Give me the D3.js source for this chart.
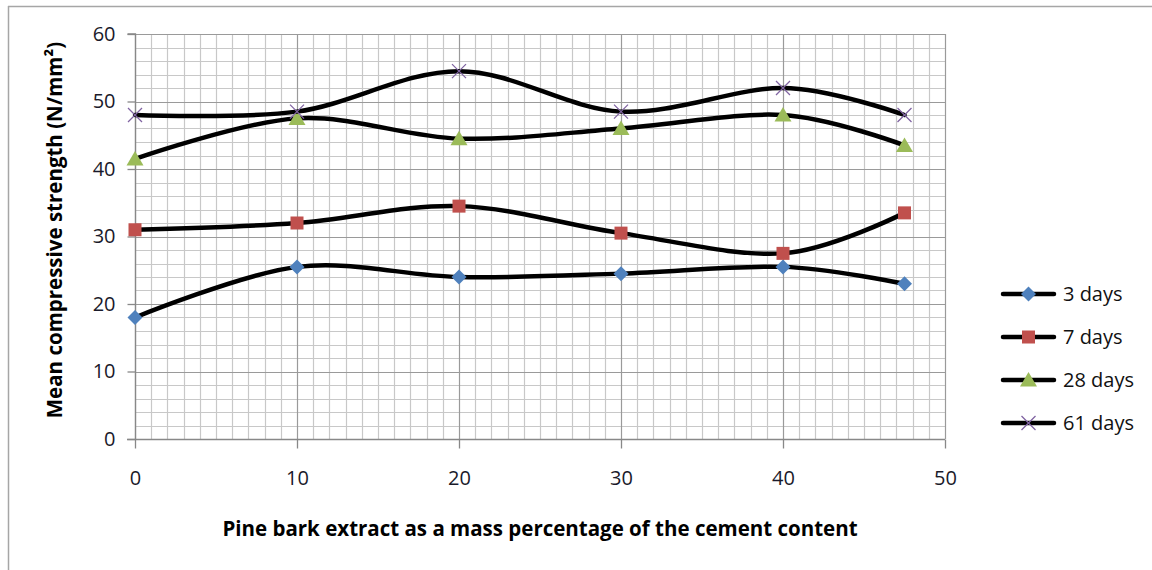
<!DOCTYPE html>
<html>
<head>
<meta charset="utf-8">
<script src="https://cdn.jsdelivr.net/npm/d3@7"></script>
<style>
  html, body { margin: 0; padding: 0; background: #fff; }
  svg { display: block; }
  text { font-family: "Open Sans", "Liberation Sans", sans-serif; }
  .tick text { font-size: 20px !important; }
</style>
</head>
<body>
<svg id="chart" width="1152" height="570"></svg>
<script>
const xValues = [0, 10, 20, 30, 40, 47.5];
const seriesNames = ["3 days", "7 days", "28 days", "61 days"];
const days3  = [18, 25.5, 24, 24.5, 25.5, 23];
const days7  = [31, 32, 34.5, 30.5, 27.5, 33.5];
const days28 = [41.5, 47.5, 44.5, 46, 48, 43.5];
const days61 = [48, 48.5, 54.5, 48.5, 52, 48];
const xTicks = [0, 10, 20, 30, 40, 50];
const yTicks = [0, 10, 20, 30, 40, 50, 60];
const xLabel = "Pine bark extract as a mass percentage of the cement content";
const yLabel = "Mean compressive strength (N/mm²)";

const series = [
  { name: seriesNames[0], values: days3,  marker: "diamond",  color: "#4F81BD" },
  { name: seriesNames[1], values: days7,  marker: "square",   color: "#C0504D" },
  { name: seriesNames[2], values: days28, marker: "triangle", color: "#9BBB59" },
  { name: seriesNames[3], values: days61, marker: "cross",    color: "#8064A2" }
];

const svg = d3.select("#chart");

// outer frame (top and left borders visible)
svg.append("line").attr("x1", 8).attr("x2", 1152).attr("y1", 6.5).attr("y2", 6.5)
  .attr("stroke", "#a6a6a6").attr("stroke-width", 1.5);
svg.append("line").attr("x1", 8.5).attr("x2", 8.5).attr("y1", 6).attr("y2", 570)
  .attr("stroke", "#a6a6a6").attr("stroke-width", 1.5);

const x = d3.scaleLinear().domain([0, 50]).range([135, 945]);
const y = d3.scaleLinear().domain([0, 60]).range([439, 34]);

const g = svg.append("g");

// minor grid
const minorX = d3.range(0, 51, 1).filter(v => v % 10 !== 0);
const minorY = d3.range(0, 61, 2).filter(v => v % 10 !== 0);
g.selectAll(".mx").data(minorX).enter().append("line")
  .attr("x1", d => Math.round(x(d)) + 0.5).attr("x2", d => Math.round(x(d)) + 0.5)
  .attr("y1", y(60)).attr("y2", y(0))
  .attr("stroke", "#c8c8c8").attr("stroke-width", 1.2);
g.selectAll(".my").data(minorY).enter().append("line")
  .attr("y1", d => Math.round(y(d)) + 0.5).attr("y2", d => Math.round(y(d)) + 0.5)
  .attr("x1", x(0)).attr("x2", x(50))
  .attr("stroke", "#c8c8c8").attr("stroke-width", 1.2);
// major grid
g.selectAll(".Mx").data(xTicks).enter().append("line")
  .attr("x1", d => Math.round(x(d)) + 0.5).attr("x2", d => Math.round(x(d)) + 0.5)
  .attr("y1", y(60)).attr("y2", y(0))
  .attr("stroke", "#9a9a9a").attr("stroke-width", 1.2);
g.selectAll(".My").data(yTicks).enter().append("line")
  .attr("y1", d => Math.round(y(d)) + 0.5).attr("y2", d => Math.round(y(d)) + 0.5)
  .attr("x1", x(0)).attr("x2", x(50))
  .attr("stroke", "#9a9a9a").attr("stroke-width", 1.2);

// axes
const xAxis = d3.axisBottom(x).tickValues(xTicks).tickSize(9).tickPadding(22).tickFormat(d3.format("d"));
const yAxis = d3.axisLeft(y).tickValues(yTicks).tickSize(8).tickPadding(12).tickFormat(d3.format("d"));
const gx = svg.append("g").attr("transform", `translate(0,${Math.round(y(0)) + 0.5})`).call(xAxis);
const gy = svg.append("g").attr("transform", `translate(${Math.round(x(0)) + 0.5},0)`).call(yAxis);
[gx, gy].forEach(a => {
  a.attr("font-size", 20).attr("font-family", "Open Sans, sans-serif");
  a.select(".domain").attr("stroke", "#888").attr("stroke-width", 1.3);
  a.selectAll(".tick line").attr("stroke", "#888").attr("stroke-width", 1.3);
  a.selectAll(".tick text").attr("fill", "#1a1a2a").attr("font-size", 20);
});
gy.select(".domain").attr("d", `M-8,${y(60)}H0V${y(0)}`);
gx.select(".domain").attr("d", `M${x(0) - 8},0H${x(50)}`);

// lines and markers
const line = d3.line().x((d, i) => x(xValues[i])).y(d => y(d)).curve(d3.curveCatmullRom.alpha(0));

function drawMarker(sel, type, color, cx, cy) {
  if (type === "diamond") {
    sel.append("path").attr("d", `M${cx},${cy-7.5}L${cx+7.5},${cy}L${cx},${cy+7.5}L${cx-7.5},${cy}Z`).attr("fill", color);
  } else if (type === "square") {
    sel.append("rect").attr("x", cx - 6.5).attr("y", cy - 6.5).attr("width", 13).attr("height", 13).attr("fill", color);
  } else if (type === "triangle") {
    sel.append("path").attr("d", `M${cx},${cy-8}L${cx+8.5},${cy+6.5}L${cx-8.5},${cy+6.5}Z`).attr("fill", color);
  } else if (type === "cross") {
    const r = 7;
    sel.append("path").attr("d", `M${cx-r},${cy-r}L${cx+r},${cy+r}M${cx-r},${cy+r}L${cx+r},${cy-r}`)
      .attr("stroke", color).attr("stroke-width", 1.3).attr("fill", "none");
  }
}

series.forEach(s => {
  const sg = svg.append("g");
  sg.append("path").datum(s.values).attr("d", line)
    .attr("fill", "none").attr("stroke", "#000").attr("stroke-width", 4.5)
    .attr("stroke-linejoin", "round").attr("stroke-linecap", "round");
  s.values.forEach((v, i) => drawMarker(sg, s.marker, s.color, x(xValues[i]), y(v)));
});

// legend
const legend = svg.append("g");
series.forEach((s, i) => {
  const ly = 294 + i * 43;
  const lg = legend.append("g");
  lg.append("line").attr("x1", 1003).attr("x2", 1054).attr("y1", ly).attr("y2", ly)
    .attr("stroke", "#000").attr("stroke-width", 4.5).attr("stroke-linecap", "round");
  drawMarker(lg, s.marker, s.color, 1028.5, ly);
  lg.append("text").attr("x", 1063).attr("y", ly).attr("dy", "0.35em")
    .style("font-size", "20px").attr("fill", "#111").text(s.name);
});

// axis titles
svg.append("text").attr("x", 540).attr("y", 529).attr("dy", "0.35em")
  .attr("text-anchor", "middle").style("font-size", "20.5px").style("font-weight", "bold")
  .attr("fill", "#000").text(xLabel);
svg.append("text").attr("transform", "translate(55,230) rotate(-90)").attr("dy", "0.35em")
  .attr("text-anchor", "middle").style("font-size", "20.5px").style("font-weight", "bold")
  .attr("fill", "#000").text(yLabel);
</script>
</body>
</html>
